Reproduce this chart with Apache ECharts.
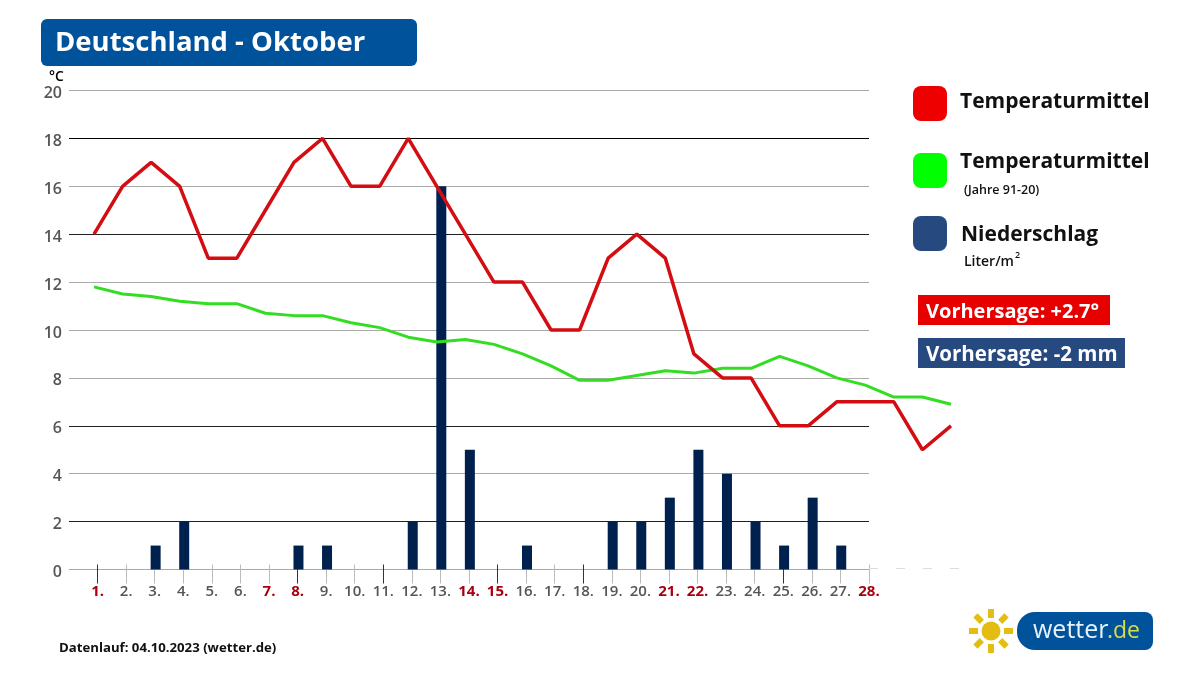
<!DOCTYPE html>
<html>
<head>
<meta charset="utf-8">
<style>html,body{margin:0;padding:0;background:#fff}#chart{width:1200px;height:675px}</style>
<script src="https://cdn.jsdelivr.net/npm/echarts@6/dist/echarts.min.js"></script>
</head>
<body>
<div id="chart"></div>
<script>
var dayLabels = ['', '1.', '2.', '3.', '4.', '5.', '6.', '7.', '8.', '9.', '10.', '11.', '12.', '13.', '14.', '15.', '16.', '17.', '18.', '19.', '20.', '21.', '22.', '23.', '24.', '25.', '26.', '27.', '28.'];
var monthDays = ['1', '2', '3', '4', '5', '6', '7', '8', '9', '10', '11', '12', '13', '14', '15', '16', '17', '18', '19', '20', '21', '22', '23', '24', '25', '26', '27', '28', '29', '30', '31'];
var redDays = [1, 7, 8, 14, 15, 21, 22, 28];
var darkTicks = [1, 8, 11, 15, 18, 25];
var tempForecast = [14, 16, 17, 16, 13, 13, 15, 17, 18, 16, 16, 18, 16, 14, 12, 12, 10, 10, 13, 14, 13, 9, 8, 8, 6, 6, 7, 7, 7, 5, 6];
var tempNormal = [11.8, 11.5, 11.4, 11.2, 11.1, 11.1, 10.7, 10.6, 10.6, 10.3, 10.1, 9.7, 9.5, 9.6, 9.4, 9.0, 8.5, 7.9, 7.9, 8.1, 8.3, 8.2, 8.4, 8.4, 8.9, 8.5, 8.0, 7.7, 7.2, 7.2, 6.9];
var rain = [0, 0, 1, 2, 0, 0, 0, 1, 1, 0, 0, 2, 16, 5, 0, 1, 0, 0, 2, 2, 3, 5, 4, 2, 1, 3, 1, 0, 0, 0, 0];
var gridColors = ['#aaa', '#222', '#aaa', '#222', '#aaa', '#aaa', '#aaa', '#222', '#aaa', '#000', '#aaa'];

var font = '"Open Sans"';
var blue = '#00529b';
var sun = '#e3bd12';

var txt = function(x, y, text, size, color, weight) {
	return {type: 'text', z: 10, style: {x: x, y: y + 2, text: text, fontFamily: font, fontSize: size, fontWeight: weight, fill: color, verticalAlign: 'middle'}};
};
var box = function(x, y, w, h, r, color) {
	return {type: 'rect', z: 9, shape: {x: x, y: y, width: w, height: h, r: r}, style: {fill: color}};
};

var sunCx = 991, sunCy = 631;
var rays = [];
[0, 45, 90, 135, 180, 225, 270, 315].forEach(function(a) {
	rays.push({
		type: 'rect', z: 9, x: sunCx, y: sunCy, rotation: a * Math.PI / 180,
		shape: {x: 13, y: -3, width: 9, height: 6}, style: {fill: sun}
	});
});

var graphics = [
	box(41, 19, 376, 47, 6, blue),
	txt(55, 41, 'Deutschland - Oktober', 27.5, '#fff', 700),
	txt(49, 75, '°C', 14, '#000', 600),
	box(913, 86, 34, 35, 8, '#ee0000'),
	txt(960, 100, 'Temperaturmittel', 21, '#111', 700),
	box(913, 153, 34, 35, 8, '#00ff00'),
	txt(960, 160, 'Temperaturmittel', 21, '#111', 700),
	txt(964, 188, '(Jahre 91-20)', 12.5, '#111', 600),
	box(913, 216, 34, 35, 8, '#264a80'),
	txt(961, 233, 'Niederschlag', 21, '#111', 700),
	txt(964, 260, 'Liter/m', 14, '#111', 600),
	txt(1015, 253, '2', 9, '#111', 600),
	box(918, 295, 192, 30, 0, '#e60000'),
	txt(926, 310, 'Vorhersage: +2.7°', 20, '#fff', 700),
	box(918, 338, 207, 30, 0, '#264a80'),
	txt(926, 353, 'Vorhersage: -2 mm', 20.5, '#fff', 700),
	txt(59, 646, 'Datenlauf: 04.10.2023 (wetter.de)', 13.2, '#111', 700),
	{type: 'line', z: 1, shape: {x1: 869, y1: 568.5, x2: 962, y2: 568.5}, style: {stroke: '#ddd', lineWidth: 1, lineDash: [9, 18]}},
	{type: 'circle', z: 9, shape: {cx: sunCx, cy: sunCy, r: 9.5}, style: {fill: sun}},
	box(1017, 612, 136, 38, [18, 8, 8, 18], blue),
	txt(1033, 629, 'wetter', 25, '#e8f2fa', 400),
	txt(1107, 629, '.de', 23, '#d8dc4e', 400)
].concat(rays);

var chart = echarts.init(document.getElementById('chart'));
chart.setOption({
	animation: false,
	backgroundColor: '#fff',
	graphic: graphics,
	grid: [
		{left: 69, width: 800, top: 90.5, height: 479},
		{left: 94, width: 857, top: 90.5, height: 479},
		{left: 98.5, width: 857, top: 90.5, height: 479}
	],
	xAxis: [{
		gridIndex: 0,
		type: 'category',
		position: 'bottom',
		boundaryGap: false,
		data: dayLabels.map(function(d, i) {
			var red = redDays.indexOf(i) >= 0;
			return {value: d, textStyle: {color: red ? '#a80010' : '#555', fontWeight: red ? 700 : 600}};
		}),
		offset: -5,
		axisLine: {show: false},
		axisTick: {
			length: 19,
			interval: function(i) { return i > 0 && darkTicks.indexOf(i) < 0; },
			lineStyle: {color: '#bbb', width: 1}
		},
		axisLabel: {interval: 0, margin: 20, fontFamily: font, fontSize: 15}
	}, {
		gridIndex: 0,
		type: 'category',
		position: 'bottom',
		boundaryGap: false,
		data: dayLabels,
		offset: -5,
		axisLine: {show: false},
		axisTick: {
			length: 19,
			interval: function(i) { return darkTicks.indexOf(i) >= 0; },
			lineStyle: {color: '#333', width: 1}
		},
		axisLabel: {show: false}
	}, {
		gridIndex: 1, type: 'category', boundaryGap: false, data: monthDays, show: false
	}, {
		gridIndex: 2, type: 'category', boundaryGap: false, data: monthDays, show: false
	}],
	yAxis: [{
		gridIndex: 0,
		type: 'value',
		min: 0,
		max: 20,
		interval: 2,
		axisLine: {show: false},
		axisTick: {show: false},
		axisLabel: {color: '#555', fontFamily: font, fontSize: 16, fontWeight: 600, margin: 7, verticalAlign: 'top', lineHeight: 6},
		splitLine: {show: true, lineStyle: {color: gridColors, width: 1}}
	}, {
		gridIndex: 1, type: 'value', min: 0, max: 20, show: false
	}, {
		gridIndex: 2, type: 'value', min: 0, max: 20, show: false
	}],
	series: [{
		name: 'Niederschlag',
		type: 'bar',
		xAxisIndex: 3,
		yAxisIndex: 2,
		barWidth: 10,
		itemStyle: {color: '#00214d'},
		data: rain
	}, {
		name: 'Temperaturmittel (Jahre 91-20)',
		type: 'line',
		xAxisIndex: 2,
		yAxisIndex: 1,
		showSymbol: false,
		clip: false,
		lineStyle: {color: '#33dd22', width: 3},
		data: tempNormal
	}, {
		name: 'Temperaturmittel',
		type: 'line',
		xAxisIndex: 2,
		yAxisIndex: 1,
		showSymbol: false,
		clip: false,
		lineStyle: {color: '#d40d12', width: 3.5},
		data: tempForecast
	}]
});
</script>
</body>
</html>
